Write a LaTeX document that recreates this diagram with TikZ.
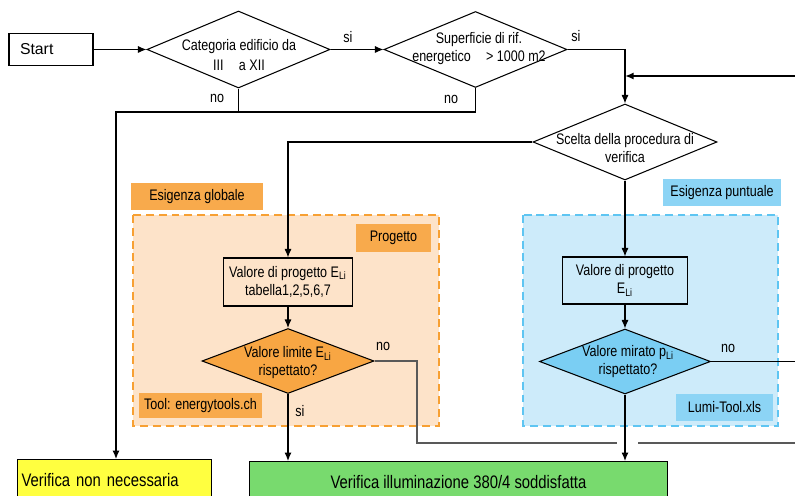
\documentclass[tikz,border=0pt]{standalone}
\usepackage{fontspec}
\setmainfont{Liberation Sans}
\newfontfamily\narrowfont[FakeStretch=0.82]{Liberation Sans}
\usetikzlibrary{shapes.geometric, arrows.meta}

\definecolor{peach}{HTML}{FDE3C9}
\definecolor{orangedash}{HTML}{F7A033}
\definecolor{orangetag}{HTML}{F8AA4C}
\definecolor{orangediam}{HTML}{F8A643}
\definecolor{lightblue}{HTML}{CDEBFA}
\definecolor{bluedash}{HTML}{5EC5F2}
\definecolor{bluetag}{HTML}{8CD4F5}
\definecolor{bluediam}{HTML}{7ACEF3}
\definecolor{yellowbox}{HTML}{FFFF40}
\definecolor{greenbox}{HTML}{78DA6E}

\begin{document}
\begin{tikzpicture}[x=0.02cm, y=-0.02cm, line width=0.6pt,
    font=\narrowfont\fontsize{8.7}{10.2}\selectfont,
    block/.style={draw, rectangle, align=center},
    decision/.style={draw, diamond, inner sep=0pt},
    dtext/.style={align=center, inner sep=0pt},
    tag/.style={rectangle, inner sep=0pt, align=center},
    final/.style={draw, rectangle, anchor=north west, minimum height=0.84cm, font=\narrowfont\fontsize{10.3}{12}\selectfont},
    flow/.style={-{Latex[length=1.7mm, width=1.4mm]}},
    area/.style={line width=1.2pt, dash pattern=on 4.5pt off 2.8pt}]
  \useasboundingbox (0,0) rectangle (795,496);
  \clip (0,0) rectangle (795,496);

  \draw[area, draw=orangedash, fill=peach] (133,215) rectangle (439,426);
  \draw[area, draw=bluedash, fill=lightblue] (523,215) rectangle (778,426);

  \node[tag, fill=orangetag, minimum width=2.64cm, minimum height=0.54cm] (globale) at (197,196.5) {Esigenza globale};
  \node[tag, fill=orangetag, minimum width=1.5cm, minimum height=0.56cm] (progetto) at (393.5,238) {Progetto};
  \node[tag, fill=orangetag, minimum width=2.46cm, minimum height=0.5cm] (tool) at (200.5,405.5) {Tool: energytools.ch};
  \node[tag, fill=bluetag, minimum width=2.36cm, minimum height=0.54cm] (puntuale) at (722,192.5) {Esigenza puntuale};
  \node[tag, fill=bluetag, minimum width=1.94cm, minimum height=0.54cm] (lumi) at (724.5,407.5) {Lumi-Tool.xls};

  \node[block, minimum width=1.68cm, minimum height=0.64cm, text width=1.24cm, inner xsep=0.22cm, align=left, font=\fontsize{9}{10}\selectfont] (start) at (51,49.5) {Start};

  \node[decision, minimum width=3.66cm, minimum height=1.54cm] (categoria) at (238.5,49.5) {};
  \node[dtext] (categoriatext) at (239,55) {Categoria edificio da\\[1pt]III\quad a XII};
  \node[decision, minimum width=3.66cm, minimum height=1.52cm] (superficie) at (475.5,49.5) {};
  \node[dtext] (superficietext) at (479,49) {Superficie di rif.\\energetico\quad > 1000 m2};
  \node[decision, minimum width=3.68cm, minimum height=1.52cm] (scelta) at (625,142) {};
  \node[dtext] (sceltatext) at (625,148) {Scelta della procedura di\\verifica};

  \node[block, minimum width=2.48cm, minimum height=0.96cm] (valoreglob) at (288,282) {Valore di progetto E\textsubscript{Li}\\tabella1,2,5,6,7};
  \node[block, minimum width=2.5cm, minimum height=0.94cm] (valorepunt) at (625,280.5) {Valore di progetto\\E\textsubscript{Li}};

  \node[decision, fill=orangediam, minimum width=3.44cm, minimum height=1.3cm] (limite) at (288,361) {};
  \node[dtext] (limitetext) at (288,363) {Valore limite E\textsubscript{Li}\\rispettato?};
  \node[decision, fill=bluediam, minimum width=3.42cm, minimum height=1.3cm] (mirato) at (625,361.5) {};
  \node[dtext] (miratotext) at (628,362) {Valore mirato p\textsubscript{Li}\\rispettato?};

  \node[final, fill=yellowbox, minimum width=3.88cm, text width=3.72cm, inner xsep=0.08cm, align=left] (nonnec) at (17,459) {Verifica non necessaria};
  \node[final, fill=greenbox, minimum width=8.36cm] (soddisfatta) at (249,461) {Verifica illuminazione 380/4 soddisfatta};

  \coordinate (ritorno) at (795,76);
  \coordinate (nobend) at (116,112);
  \coordinate (salto) at (417,443);
  \coordinate (saltoend) at (617,443);
  \coordinate (saltoback) at (638,443);
  \coordinate (uscita) at (795,443);
  \coordinate (miratoout) at (795,361.5);

  \draw[flow] (start) -- (categoria);
  \draw[flow] (categoria) -- (superficie);
  \draw[flow] (superficie.east) -| (scelta.north);
  \draw[flow, line width=1.2pt] (ritorno) -- (ritorno -| scelta.north);
  \draw[flow] (categoria.south) |- (nobend) -- (nobend |- nonnec.north);
  \draw (superficie.south) |- (nobend);
  \draw[flow] (scelta.west) -| (valoreglob.north);
  \draw[flow] (scelta.south) -- (valorepunt.north);
  \draw[flow] (valoreglob) -- (limite);
  \draw[flow] (valorepunt) -- (mirato);
  \draw[flow] (limite.south) -- (limite.south |- soddisfatta.north);
  \draw[flow] (mirato.south) -- (mirato.south |- soddisfatta.north);
  \draw[black!65] (limite.east) -| (salto) -- (saltoend);
  \draw[black!65] (saltoback) -- (uscita);
  \draw (mirato.east) -- (miratoout);

  \node (si1) at (348,37) {si};
  \node (si2) at (576,36) {si};
  \node (no1) at (217,98) {no};
  \node (no2) at (451,99) {no};
  \node (no3) at (383,346) {no};
  \node (si3) at (300,411) {si};
  \node (no4) at (728,348) {no};
\end{tikzpicture}
\end{document}
